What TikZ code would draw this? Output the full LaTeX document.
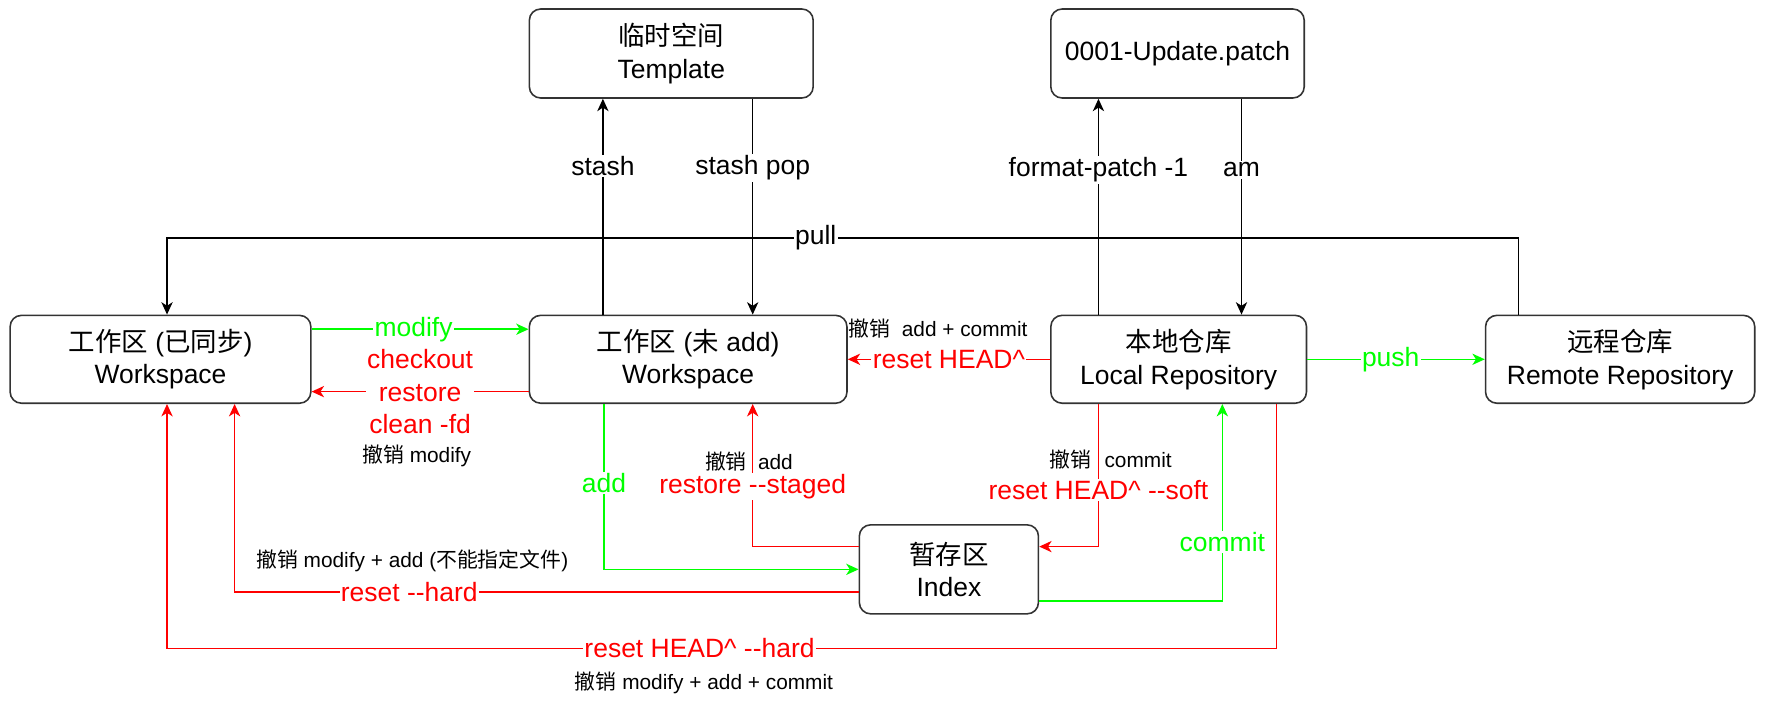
\documentclass[tikz,border=0pt]{standalone}
\usepackage{fontspec}
\setmainfont{Liberation Sans}
\newfontfamily\cjk{Noto Sans CJK SC}
\usetikzlibrary{arrows.meta}
\definecolor{gitgreen}{HTML}{00FF00}
\definecolor{gitred}{HTML}{FF0000}
\newcommand\zh[1]{{\cjk #1}}
\newcommand\dd{-\kern0pt-}
\tikzset{
  area/.style={draw=black!80, line width=0.7pt, rounded corners=5pt, fill=white, align=center,
    inner sep=0pt, minimum height=39.5pt, font=\fontsize{11.75pt}{14.5pt}\selectfont},
  flow/.style={line width=0.65pt, -{Stealth[length=5.5pt,width=5pt,inset=1.6pt]}},
  cmd/.style={fill=white, inner sep=0.6pt, align=center, font=\fontsize{11.75pt}{14.25pt}\selectfont},
  note/.style={inner sep=0pt, font=\fontsize{9.25pt}{11pt}\selectfont},
}
\begin{document}
\begin{tikzpicture}[x=0.5pt, y=-0.5pt]
  \useasboundingbox (0,0) rectangle (1568,623);
  % 区域
  \node[area, minimum width=126pt] (tmp) at (596,47.5) {\zh{临时空间}\\Template};
  \node[area, minimum width=112.5pt] (patch) at (1045.5,47.5) {0001-Update.patch};
  \node[area, minimum width=133.5pt, minimum height=39pt] (ws1) at (142.5,319) {\zh{工作区} (\zh{已同步})\\Workspace};
  \node[area, minimum width=141pt, minimum height=39pt] (ws2) at (611,319) {\zh{工作区} (\zh{未} add)\\Workspace};
  \node[area, minimum width=113.5pt, minimum height=39pt] (repo) at (1046.5,319) {\zh{本地仓库}\\Local Repository};
  \node[area, minimum width=119.5pt, minimum height=39pt] (remote) at (1438.5,319) {\zh{远程仓库}\\Remote Repository};
  \node[area, minimum width=79.5pt] (index) at (842.5,505.5) {\zh{暂存区}\\Index};

  % 上方命令
  \draw[flow] ([xshift=33pt]ws2.north west) -- node[cmd, pos=0.69] (stashl) {stash} ([xshift=33pt]tmp.south west);
  \draw[flow] ([xshift=99.5pt]tmp.south west) -- node[cmd, pos=0.32] (popl) {stash pop} ([xshift=99.5pt]ws2.north west);
  \draw[flow] ([xshift=21.5pt]repo.north west) -- node[cmd, pos=0.67] (fpl) {format-patch -1} ([xshift=21.5pt]patch.south west);
  \draw[flow] ([xshift=85pt]patch.south west) -- node[cmd, pos=0.33] (aml) {am} ([xshift=85pt]repo.north west);
  \draw[flow] ([xshift=15pt]remote.north west) -- ++(0,-68) -| node[cmd, pos=0.26] (pulll) {pull} ([xshift=70pt]ws1.north west);

  % 工作区之间
  \draw[flow, gitgreen] ([yshift=-6.5pt]ws1.north east) -- node[cmd, pos=0.47] (modl) {modify} ([yshift=-6.5pt]ws2.north west);
  \draw[flow, gitred] ([yshift=5.5pt]ws2.south west) -- node[cmd] (rstl) {checkout\\restore\\clean -fd} ([yshift=5.5pt]ws1.south east);
  \node[note] (rstn) at (370,405) {\zh{撤销} modify};

  % 仓库
  \draw[flow, gitred] (repo.west) -- node[cmd] (headl) {reset HEAD\textasciicircum} (ws2.east);
  \node[note] (headn) at (833,292) {\zh{撤销}\hspace{5pt}add + commit};
  \draw[flow, gitgreen] (repo.east) -- node[cmd, pos=0.47] (pushl) {push} (remote.west);

  % 暂存区
  \draw[flow, gitgreen] ([xshift=33.5pt]ws2.south west) |- node[cmd, pos=0.24] (addl) {add} (index.west);
  \draw[flow, gitred] ([yshift=-10pt]index.north west) -| node[cmd, pos=0.71] (stgl) {restore \dd staged} ([xshift=99.5pt]ws2.south west);
  \node[note] (stgn) at (665,410) {\zh{撤销}\hspace{5pt}add};
  \draw[flow, gitred] ([xshift=21.5pt]repo.south west) |- node[cmd, pos=0.30] (softl) {reset HEAD\textasciicircum{} \dd soft} ([yshift=-10pt]index.north east);
  \node[note] (softn) at (986,408) {\zh{撤销}\hspace{6pt}commit};
  \draw[flow, gitgreen] ([yshift=6pt]index.south east) -| node[cmd, pos=0.65] (comml) {commit} ([xshift=76.5pt]repo.south west);

  % 回退
  \draw[flow, gitred] ([yshift=10pt]index.south west) -| node[cmd, pos=0.36] (hardl) {reset \dd hard} ([xshift=100pt]ws1.south west);
  \node[note] (hardn) at (366,498) {\zh{撤销} modify + add (\zh{不能指定文件})};
  \draw[flow, gitred] ([xshift=100.5pt]repo.south west) -- ++(0,217) -| node[cmd, pos=0.26] (hhardl) {reset HEAD\textasciicircum{} \dd hard} ([xshift=70pt]ws1.south west);
  \node[note] (hhardn) at (625,606) {\zh{撤销} modify + add + commit};
\end{tikzpicture}
\end{document}
